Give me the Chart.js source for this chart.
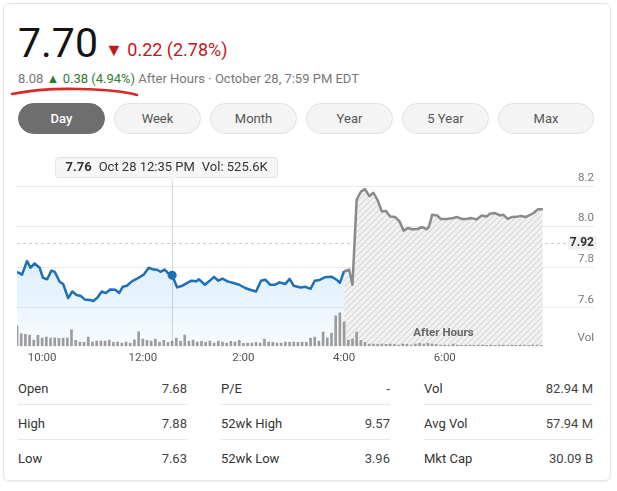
<!DOCTYPE html>
<html>
<head>
<meta charset="utf-8">
<script src="https://cdn.jsdelivr.net/npm/chart.js@4.4.0/dist/chart.umd.min.js"></script>
<style>
body { margin: 0; width: 617px; height: 491px; overflow: hidden; position: relative; background: #fff; font-family: Roboto, Arial, sans-serif; }
.card { position: absolute; left: 3px; top: 3px; width: 606px; height: 476px; border: 1px solid #e4e4e4; border-radius: 6px; box-shadow: 0 1px 2px rgba(0,0,0,0.05); }
.abs { position: absolute; white-space: nowrap; line-height: 1; }
.price { left: 18px; top: 23px; font-size: 41px; color: #141414; }
.change { left: 105px; top: 41px; font-size: 18px; color: #c4161c; }
.sub { left: 18px; top: 72px; font-size: 13px; color: #777; }
.sub .up { color: #2e7d32; }
.btn { position: absolute; top: 103px; width: 85px; height: 29px; border: 1px solid #e2e2e2; border-radius: 16px; background: #f4f4f4; color: #555; font-size: 13px; line-height: 29px; text-align: center; }
.btn.on { background: #6e6e6e; border-color: #6e6e6e; color: #fff; font-weight: 500; }
#wrap { position: absolute; left: 0; top: 145px; width: 617px; height: 225px; }
.cell { position: absolute; font-size: 13px; line-height: 1; color: #333; white-space: nowrap; }
.val { text-align: right; width: 120px; color: #444; }
.sep { position: absolute; height: 1px; background: #e8e8e8; }
</style>
</head>
<body>
<div class="card"></div>
<div class="abs price">7.70</div>
<div class="abs change">&#9660; 0.22 (2.78%)</div>
<div class="abs sub">8.08 <span class="up">&#9650; 0.38 (4.94%)</span> After Hours · October 28, 7:59 PM EDT</div>
<svg style="position:absolute;left:0;top:0" width="160" height="110">
  <path d="M12 94 Q 40 88, 80 89 T 137 95" fill="none" stroke="#d42a2a" stroke-width="2.6" stroke-linecap="round"/>
</svg>
<div id="buttons"></div>
<div id="wrap"><canvas id="chart" width="617" height="225"></canvas></div>
<div id="stats"></div>
<script>
// Price path, regular session (ET, 24h) and after hours
const regTimes = ['9:30','9:36','9:42','9:46','9:51','9:57',
  '10:01','10:06','10:11','10:15','10:21','10:25','10:31','10:36','10:41','10:46','10:51','10:57',
  '11:01','11:06','11:11','11:16','11:21','11:27','11:32','11:36','11:41','11:47','11:53',
  '12:01','12:07','12:13','12:17','12:21','12:26','12:31','12:35','12:41','12:47','12:52','12:58',
  '13:04','13:07','13:14','13:19','13:25','13:30','13:35','13:41','13:48','13:55',
  '14:02','14:09','14:15','14:21','14:26','14:32','14:37','14:43','14:50','14:55',
  '15:00','15:08','15:14','15:20','15:25','15:31','15:37','15:45','15:51','15:55','16:00'];
const regPrices = [7.777,7.763,7.83,7.797,7.818,7.797,
  7.747,7.74,7.783,7.777,7.727,7.717,7.647,7.68,7.663,7.658,7.64,7.638,
  7.633,7.65,7.68,7.672,7.69,7.688,7.673,7.703,7.708,7.73,7.743,
  7.763,7.797,7.788,7.787,7.777,7.788,7.767,7.76,7.70,7.708,7.72,7.733,
  7.73,7.74,7.713,7.73,7.752,7.733,7.743,7.73,7.722,7.713,
  7.697,7.687,7.68,7.733,7.738,7.713,7.713,7.725,7.717,7.742,
  7.708,7.70,7.703,7.693,7.733,7.737,7.75,7.753,7.738,7.722,7.78];

const ahTimes = ['16:00','16:06','16:10','16:15','16:20','16:25','16:30','16:35','16:40','16:45','16:50','16:55',
  '17:01','17:06','17:11','17:16','17:21','17:27','17:33','17:38','17:41','17:45','17:51','17:55',
  '18:03','18:10','18:15','18:20','18:26','18:32','18:38','18:44','18:50','18:54',
  '19:00','19:06','19:10','19:15','19:20','19:26','19:31','19:36','19:42','19:46','19:51','19:57'];
const ahPrices = [7.78,7.788,7.713,8.133,8.172,8.185,8.15,8.167,8.13,8.075,8.077,8.05,
  8.047,8.027,7.98,7.993,7.987,7.988,7.997,7.987,7.997,8.058,8.055,8.038,
  8.038,8.042,8.047,8.038,8.037,8.042,8.035,8.055,8.05,8.063,
  8.067,8.055,8.058,8.038,8.047,8.048,8.053,8.047,8.058,8.067,8.085,8.085];

// Volume in thousands, 5 minute bars from 9:30
const volStart = '9:30';
const volumes = [
  2100,1270,1240,1150,640,1130,830,950,840,860,
  820,850,830,1690,610,430,410,940,420,540,
  520,530,640,410,430,320,420,310,650,1480,
  730,620,540,740,430,620,410,525.6,830,520,
  1160,530,640,420,510,410,520,330,540,420,
  320,510,430,620,310,320,330,410,320,740,
  420,410,330,320,420,410,430,410,420,410,
  850,940,520,1470,860,1370,3150,3460,
  2520,640,730,1470,620,410,210,220,200,210,
  190,220,200,110,210,200,120,210,310,220,
  300,210,200,110,120,100,210,110,100,120,
  110,100,110,120,100,110,100,120,110,100,
  110,100,120,110,100,110,120,100];

const xTicks = ['10:00','12:00','14:00','16:00','18:00'];
const yTicks = [7.6, 7.8, 8.0, 8.2];
const prevClose = 7.92;
const hoverTime = '12:35';
const sessionDate = 'Oct 28';

const ranges = ['Day','Week','Month','Year','5 Year','Max'];
const statLabels = [['Open','High','Low'], ['P/E','52wk High','52wk Low'], ['Vol','Avg Vol','Mkt Cap']];
const statValues = [['7.68','7.88','7.63'], ['-','9.57','3.96'], ['82.94 M','57.94 M','30.09 B']];

const BLUE = '#1f6fb6';
const GRAY_LINE = '#8a8a8a';
const FONT = 'Roboto, Arial, sans-serif';

function toMin(t) {
    const [h, m] = t.split(':').map(Number);
    return h * 60 + m;
}

function fmtHour(v) {
    const h = Math.floor(v / 60), m = v % 60;
    return ((h + 11) % 12 + 1) + ':' + String(m).padStart(2, '0');
}

// Buttons and stats table
const btnBox = document.getElementById('buttons');
ranges.forEach((r, i) => {
    const b = document.createElement('div');
    b.className = 'btn' + (i === 0 ? ' on' : '');
    b.style.left = (18 + i * 96) + 'px';
    if (i === ranges.length - 1) b.style.width = '94px';
    b.textContent = r;
    btnBox.appendChild(b);
});

const stats = document.getElementById('stats');
const rowTops = [382, 417, 452];
statLabels.forEach((col, c) => {
    const left = 18 + c * 203;
    col.forEach((lab, r) => {
        const l = document.createElement('div');
        l.className = 'cell';
        l.style.left = left + 'px';
        l.style.top = rowTops[r] + 'px';
        l.textContent = lab;
        stats.appendChild(l);
        const v = document.createElement('div');
        v.className = 'cell val';
        v.style.left = (left + 169 - 120) + 'px';
        v.style.top = rowTops[r] + 'px';
        v.textContent = statValues[c][r];
        stats.appendChild(v);
        if (r < 2) {
            const s = document.createElement('div');
            s.className = 'sep';
            s.style.left = left + 'px';
            s.style.width = '169px';
            s.style.top = (rowTops[r] + 22) + 'px';
            stats.appendChild(s);
        }
    });
});

// Hatch pattern for after hours area
function makeHatch() {
    const p = document.createElement('canvas');
    p.width = 6; p.height = 6;
    const c = p.getContext('2d');
    c.fillStyle = 'rgba(238,238,238,0.85)';
    c.fillRect(0, 0, 6, 6);
    c.strokeStyle = '#cfcfcf';
    c.lineWidth = 1;
    c.beginPath();
    c.moveTo(0, 6); c.lineTo(6, 0);
    c.moveTo(-1, 1); c.lineTo(1, -1);
    c.moveTo(5, 7); c.lineTo(7, 5);
    c.stroke();
    return c.createPattern(p, 'repeat');
}

const regPoints = regTimes.map((t, i) => ({ x: toMin(t), y: regPrices[i] }));
const ahPoints = ahTimes.map((t, i) => ({ x: toMin(t), y: ahPrices[i] }));
const volPoints = volumes.map((v, i) => ({ x: toMin(volStart) + i * 5, y: v }));
const hoverIdx = regTimes.indexOf(hoverTime);

// Overlay: previous close, crosshair, tooltip box, labels
const overlay = {
    id: 'overlay',
    beforeDatasetsDraw(chart) {
        const { ctx, chartArea: a, scales: { x, y } } = chart;
        const py = Math.round(y.getPixelForValue(prevClose)) + 0.5;
        const cx = Math.round(x.getPixelForValue(toMin(hoverTime))) + 0.5;
        ctx.save();
        ctx.strokeStyle = '#cccccc';
        ctx.lineWidth = 1;
        ctx.setLineDash([3, 3]);
        ctx.beginPath();
        ctx.moveTo(a.left, py);
        ctx.lineTo(a.right - 28, py);
        ctx.stroke();
        ctx.setLineDash([]);
        ctx.strokeStyle = '#d6d6d6';
        ctx.beginPath();
        ctx.moveTo(cx, 34);
        ctx.lineTo(cx, a.bottom);
        ctx.stroke();
        ctx.restore();
    },
    afterDatasetsDraw(chart) {
        const { ctx, chartArea: a, scales: { x, y } } = chart;
        const cx = Math.round(x.getPixelForValue(toMin(hoverTime))) + 0.5;
        const price = regPrices[hoverIdx];
        const vol = volumes[(toMin(hoverTime) - toMin(volStart)) / 5];
        const parts = [
            { t: price.toFixed(2), f: 'bold 13px ' + FONT },
            { t: sessionDate + ' ' + fmtHour(toMin(hoverTime)) + ' PM', f: '13px ' + FONT },
            { t: 'Vol: ' + vol.toFixed(1) + 'K', f: '13px ' + FONT }
        ];
        ctx.save();
        let w = 20;
        parts.forEach((p, i) => { ctx.font = p.f; p.w = ctx.measureText(p.t).width; w += p.w + (i ? 7 : 0); });
        const bx = Math.round(cx - 118) + 0.5, by = 12.5, bh = 20;
        ctx.fillStyle = '#f6f6f6';
        ctx.strokeStyle = '#e2e2e2';
        ctx.beginPath();
        ctx.roundRect(bx, by, w, bh, 3);
        ctx.fill();
        ctx.stroke();
        ctx.beginPath();
        ctx.moveTo(cx - 4, by + bh - 0.5);
        ctx.lineTo(cx, by + bh + 4);
        ctx.lineTo(cx + 4, by + bh - 0.5);
        ctx.closePath();
        ctx.fill();
        ctx.fillStyle = '#333';
        ctx.textBaseline = 'middle';
        let tx = bx + 10;
        parts.forEach(p => { ctx.font = p.f; ctx.fillText(p.t, tx, by + bh / 2 + 0.5); tx += p.w + 7; });

        // previous close tag
        const py = y.getPixelForValue(prevClose);
        ctx.fillStyle = '#f1f1f1';
        ctx.beginPath();
        ctx.roundRect(a.right - 26, py - 7, 29, 14, 2);
        ctx.fill();
        ctx.fillStyle = '#333';
        ctx.font = 'bold 12px ' + FONT;
        ctx.textAlign = 'right';
        ctx.fillText(prevClose.toFixed(2), a.right, py + 0.5);

        // volume axis label
        ctx.fillStyle = '#777';
        ctx.font = '11.5px ' + FONT;
        ctx.fillText('Vol', a.right, a.bottom - 8);

        // after hours caption
        const mid = (x.getPixelForValue(ahPoints[0].x) + x.getPixelForValue(ahPoints[ahPoints.length - 1].x)) / 2;
        ctx.textAlign = 'center';
        ctx.fillStyle = '#666';
        ctx.font = 'bold 11.5px ' + FONT;
        ctx.fillText('After Hours', mid, a.bottom - 13);
        ctx.restore();
    }
};

const canvas = document.getElementById('chart');
const hatch = makeHatch();

new Chart(canvas, {
    type: 'line',
    data: {
        datasets: [{
            type: 'bar',
            label: 'Volume',
            data: volPoints,
            yAxisID: 'v',
            backgroundColor: '#9c9c9c',
            barThickness: 2,
            order: 0
        }, {
            label: 'Price',
            data: regPoints,
            yAxisID: 'y',
            borderColor: BLUE,
            borderWidth: 2.5,
            borderJoinStyle: 'round',
            backgroundColor: ctx => {
                const a = ctx.chart.chartArea;
                if (!a) return 'rgba(33,150,243,0.1)';
                const g = ctx.chart.ctx.createLinearGradient(0, a.top + 70, 0, a.bottom);
                g.addColorStop(0, 'rgba(33,150,243,0.17)');
                g.addColorStop(1, 'rgba(33,150,243,0.03)');
                return g;
            },
            fill: 'start',
            tension: 0,
            pointRadius: ctx => ctx.dataIndex === hoverIdx ? 4.5 : 0,
            pointBackgroundColor: BLUE,
            pointBorderWidth: 0,
            order: 1
        }, {
            label: 'After Hours',
            data: ahPoints,
            yAxisID: 'y',
            borderColor: GRAY_LINE,
            borderWidth: 2.5,
            borderJoinStyle: 'round',
            backgroundColor: hatch,
            fill: 'start',
            tension: 0,
            pointRadius: 0,
            order: 2
        }]
    },
    options: {
        responsive: false,
        animation: false,
        events: [],
        layout: { padding: { left: 17, right: 23, top: 37, bottom: 0 } },
        plugins: { legend: { display: false }, tooltip: { enabled: false } },
        scales: {
            x: {
                type: 'linear',
                min: 570,
                max: 1258,
                offset: false,
                grid: { display: false, drawTicks: false },
                border: { display: false },
                afterBuildTicks: s => { s.ticks = xTicks.map(t => ({ value: toMin(t) })); },
                ticks: {
                    callback: v => fmtHour(v),
                    autoSkip: false,
                    maxRotation: 0,
                    padding: 5,
                    color: '#555',
                    font: { family: FONT, size: 11.5 }
                }
            },
            y: {
                position: 'right',
                min: 7.41,
                max: 8.22,
                grid: { color: '#e9e9e9', drawTicks: false },
                border: { display: false },
                afterBuildTicks: s => { s.ticks = yTicks.map(v => ({ value: v })); },
                ticks: {
                    mirror: true,
                    padding: 0,
                    labelOffset: -8,
                    callback: v => v.toFixed(1),
                    color: '#777',
                    font: { family: FONT, size: 11.5 }
                }
            },
            v: { display: false, min: 0, max: 17000 }
        }
    },
    plugins: [overlay]
});
</script>
</body>
</html>
